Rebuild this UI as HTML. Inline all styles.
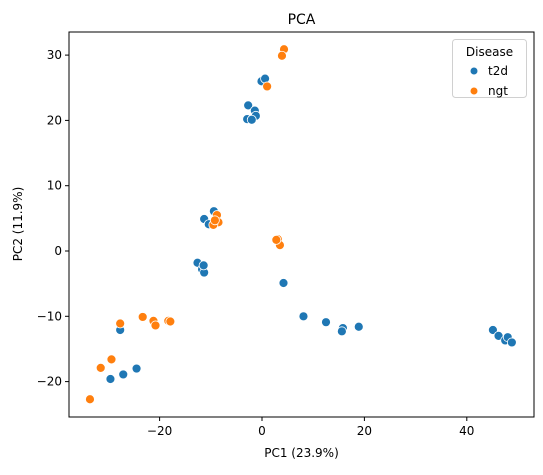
<!DOCTYPE html>
<html><head><meta charset="utf-8"><style>
body{margin:0;background:#fff;font-family:"Liberation Sans","DejaVu Sans",sans-serif}
svg text{font-family:"DejaVu Sans","Liberation Sans",sans-serif;fill:#000}
</style></head><body>
<svg id="chart" width="543" height="470" xmlns="http://www.w3.org/2000/svg">
<text x="301.5" y="24" font-size="14" text-anchor="middle">PCA</text>
<g id="pts"></g>
<rect x="69" y="32" width="465" height="385" fill="none" stroke="#000" stroke-width="1"/>
<g id="xt"></g>
<g id="yt"></g>
<text x="301.5" y="457" font-size="12" text-anchor="middle">PC1 (23.9%)</text>
<text transform="translate(22,224) rotate(-90)" font-size="12" text-anchor="middle">PC2 (11.9%)</text>
<g>
<rect x="452.5" y="39.5" width="74" height="58" rx="3" fill="#fff" stroke="#ccc" opacity="0.9"/>
<text x="489.5" y="56" font-size="12" text-anchor="middle">Disease</text>
<g><circle cx="474" cy="71" r="3.5" fill="#1f77b4"/><text x="488" y="75" font-size="12">t2d</text></g>
<g><circle cx="474" cy="91" r="3.5" fill="#ff7f0e"/><text x="488" y="95" font-size="12">ngt</text></g>
</g>
</svg>
<script>
const xTicks=[-20,0,20,40];
const yTicks=[-20,-10,0,10,20,30];
const t2dX=[-29.6,-27.1,-24.5,-27.7,-0.1,0.6,-2.7,-1.4,-1.2,-2.9,-2.0,-9.4,-11.3,-10.4,-12.6,-11.7,-11.3,-11.4,4.2,8.1,12.5,15.8,15.6,18.9,45.1,46.2,47.5,48.0,48.8];
const t2dY=[-19.6,-18.9,-18.0,-12.1,26.0,26.4,22.3,21.5,20.7,20.2,20.1,6.1,4.9,4.1,-1.8,-2.8,-3.3,-2.2,-4.9,-10.0,-10.9,-11.8,-12.3,-11.6,-12.1,-13.0,-13.7,-13.2,-14.0];
const ngtX=[-33.6,-31.5,-29.4,-27.7,-23.3,-21.2,-20.8,-18.3,-17.9,4.3,3.9,1.0,-8.8,-8.5,-9.5,-9.2,3.1,3.5,2.8];
const ngtY=[-22.7,-17.9,-16.6,-11.1,-10.1,-10.7,-11.4,-10.7,-10.8,30.9,29.9,25.2,5.5,4.4,4.0,4.7,1.8,0.9,1.7];
const NS="http://www.w3.org/2000/svg";
const sx=v=>262+v*5.12, sy=v=>251-v*6.53;
function mk(t,a,p){const e=document.createElementNS(NS,t);for(const k in a)e.setAttribute(k,a[k]);p.appendChild(e);return e;}
const xt=document.getElementById('xt'),yt=document.getElementById('yt'),pts=document.getElementById('pts');
xTicks.forEach(v=>{const x=sx(v);
 const l=mk('line',{x1:x,x2:x,y1:417,y2:421,stroke:'#000'},xt);
 
 
 const t=mk('text',{x:x,y:435,'font-size':12,'text-anchor':'middle'},xt);t.textContent=(v<0?'\u2212'+(-v):v);
 
 });
yTicks.forEach(v=>{const y=sy(v);
 const l=mk('line',{x1:65,x2:69,y1:y,y2:y,stroke:'#000'},yt);
 
 
 const t=mk('text',{x:62,y:y+4,'font-size':12,'text-anchor':'end'},yt);t.textContent=(v<0?'\u2212'+(-v):v);
 
 });
function draw(X,Y,c,n){X.forEach((v,i)=>{const p=mk('circle',{cx:sx(v),cy:sy(Y[i]),r:4.5,fill:c,stroke:'#fff','stroke-width':0.8},pts);
 
 });}
draw(t2dX,t2dY,'#1f77b4','point-t2d');
draw(ngtX,ngtY,'#ff7f0e','point-ngt');
</script>
</body></html>
